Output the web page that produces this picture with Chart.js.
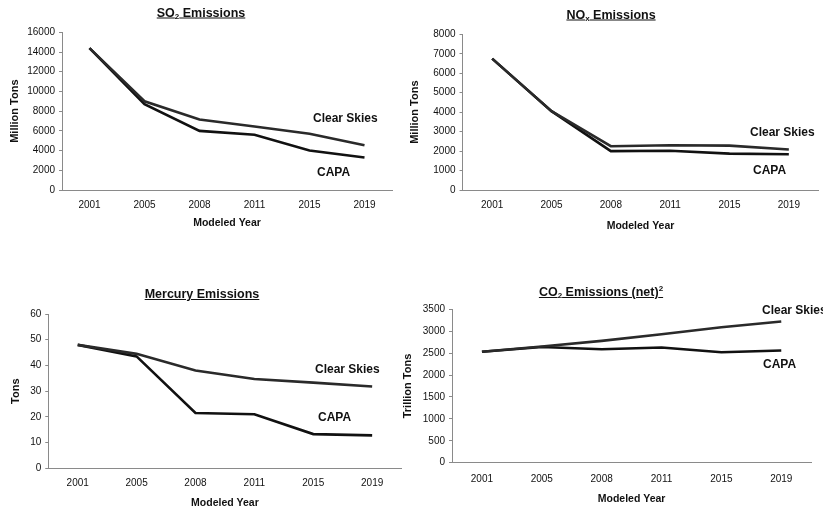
<!DOCTYPE html>
<html>
<head>
<meta charset="utf-8">
<script src="https://cdn.jsdelivr.net/npm/chart.js@4.4.0/dist/chart.umd.min.js"></script>
<style>
  body { margin: 0; background: #fff; width: 823px; height: 510px; position: relative; overflow: hidden;
         font-family: "Liberation Sans", Arial, sans-serif; color: #111; }
  .box { position: absolute; }
  .ttl { position: absolute; font-weight: bold; font-size: 12.5px; text-decoration: underline;
         transform: translate(-50%, -50%); white-space: nowrap; }
  .ttl sub { font-size: 8px; vertical-align: -2px; }
  .ttl sup { font-size: 8px; vertical-align: 5px; }
  .lbl { position: absolute; font-weight: bold; font-size: 12px; transform: translateY(-50%); white-space: nowrap; }
</style>
</head>
<body>
<div class="box" style="left:0px;top:0px;width:400px;height:255px"><canvas id="so2Chart"></canvas></div>
<div class="box" style="left:400px;top:0px;width:423px;height:255px"><canvas id="noxChart"></canvas></div>
<div class="box" style="left:0px;top:255px;width:403px;height:255px"><canvas id="mercuryChart"></canvas></div>
<div class="box" style="left:400px;top:255px;width:423px;height:255px"><canvas id="co2Chart"></canvas></div>

<div class="ttl" style="left:201px;top:13px">SO<sub>2</sub> Emissions</div>
<div class="ttl" style="left:611px;top:15px">NO<sub>x</sub> Emissions</div>
<div class="ttl" style="left:202px;top:294px">Mercury Emissions</div>
<div class="ttl" style="left:601px;top:292px">CO<sub>2</sub> Emissions (net)<sup>2</sup></div>

<div class="lbl" style="left:313px;top:118px">Clear Skies</div>
<div class="lbl" style="left:317px;top:172px">CAPA</div>
<div class="lbl" style="left:750px;top:132px">Clear Skies</div>
<div class="lbl" style="left:753px;top:170px">CAPA</div>
<div class="lbl" style="left:315px;top:369px">Clear Skies</div>
<div class="lbl" style="left:318px;top:417px">CAPA</div>
<div class="lbl" style="left:762px;top:310px">Clear Skies</div>
<div class="lbl" style="left:763px;top:364px">CAPA</div>

<script>
const years = ['2001', '2005', '2008', '2011', '2015', '2019']

// SO2 (Million Tons)
const so2ClearSkies = [14400, 9000, 7150, 6450, 5700, 4550]
const so2Capa = [14400, 8700, 6000, 5600, 4000, 3300]

// NOx (Million Tons)
const noxClearSkies = [6750, 4050, 2250, 2300, 2280, 2080]
const noxCapa = [6750, 4050, 2000, 2020, 1870, 1840]

// Mercury (Tons)
const mercuryClearSkies = [48, 44.5, 38, 34.7, 33.3, 31.8]
const mercuryCapa = [48, 43.5, 21.5, 21, 13.3, 12.8]

// CO2 (Trillion Tons)
const co2ClearSkies = [2530, 2650, 2780, 2930, 3090, 3220]
const co2Capa = [2530, 2640, 2590, 2630, 2520, 2560]

const FONT = '"Liberation Sans", Arial, sans-serif'

const makeChart = (id, clearSkies, capa, yMax, yStep, yTitle, lay) => {
    new Chart(document.getElementById(id), {
        type: 'line',
        data: {
            labels: years,
            datasets: [{
                label: 'Clear Skies',
                data: clearSkies,
                borderColor: '#2a2a2a',
                borderWidth: 2.6,
                pointRadius: 0,
                tension: 0,
            }, {
                label: 'CAPA',
                data: capa,
                borderColor: '#111111',
                borderWidth: 2.6,
                pointRadius: 0,
                tension: 0,
            }]
        },
        options: {
            responsive: true,
            maintainAspectRatio: false,
            animation: false,
            layout: { padding: lay.padding },
            plugins: {
                legend: { display: false },
                tooltip: { enabled: false },
            },
            scales: {
                x: {
                    offset: true,
                    grid: { display: false, drawTicks: false },
                    border: { display: true, color: '#8a8a8a', width: 1 },
                    ticks: { color: '#111', padding: lay.xTickPad, maxRotation: 0,
                             font: { family: FONT, size: 10 } },
                    title: { display: true, text: 'Modeled Year', color: '#111',
                             padding: { top: 0, bottom: lay.xTitlePad },
                             font: { family: FONT, size: 10.5, weight: 'bold' } },
                    afterFit: (scale) => { scale.height = lay.xHeight },
                },
                y: {
                    min: 0,
                    max: yMax,
                    grid: { display: true, drawOnChartArea: false, drawTicks: true, tickLength: 3, color: '#8a8a8a' },
                    border: { display: true, color: '#8a8a8a', width: 1 },
                    ticks: { stepSize: yStep, color: '#111', padding: 4,
                             font: { family: FONT, size: 10 },
                             callback: (v) => String(v) },
                    title: { display: true, text: yTitle, color: '#111',
                             padding: { top: lay.yTitlePad, bottom: 0 },
                             font: { family: FONT, size: 11, weight: 'bold' } },
                    afterFit: (scale) => { scale.width = lay.yWidth },
                }
            }
        }
    })
}

makeChart('so2Chart', so2ClearSkies, so2Capa, 16000, 2000, 'Million Tons', {
    padding: { left: 0, right: 8, top: 32.3, bottom: 0 },
    yWidth: 62, xHeight: 65, xTickPad: 9, xTitlePad: 25.7, yTitlePad: 8.4,
})
makeChart('noxChart', noxClearSkies, noxCapa, 8000, 1000, 'Million Tons', {
    padding: { left: 0, right: 4.5, top: 34.3, bottom: 0 },
    yWidth: 62.5, xHeight: 65, xTickPad: 9.7, xTitlePad: 22.7, yTitlePad: 8.4,
})
makeChart('mercuryChart', mercuryClearSkies, mercuryCapa, 60, 10, 'Tons', {
    padding: { left: 0, right: 1.4, top: 59, bottom: 0 },
    yWidth: 48.25, xHeight: 41.7, xTickPad: 9, xTitlePad: 0.4, yTitlePad: 9.4,
})
makeChart('co2Chart', co2ClearSkies, co2Capa, 3500, 500, 'Trillion Tons', {
    padding: { left: 0, right: 11.8, top: 54.3, bottom: 0 },
    yWidth: 52, xHeight: 47.3, xTickPad: 10.6, xTitlePad: 4.4, yTitlePad: 1.4,
})
</script>
</body>
</html>
